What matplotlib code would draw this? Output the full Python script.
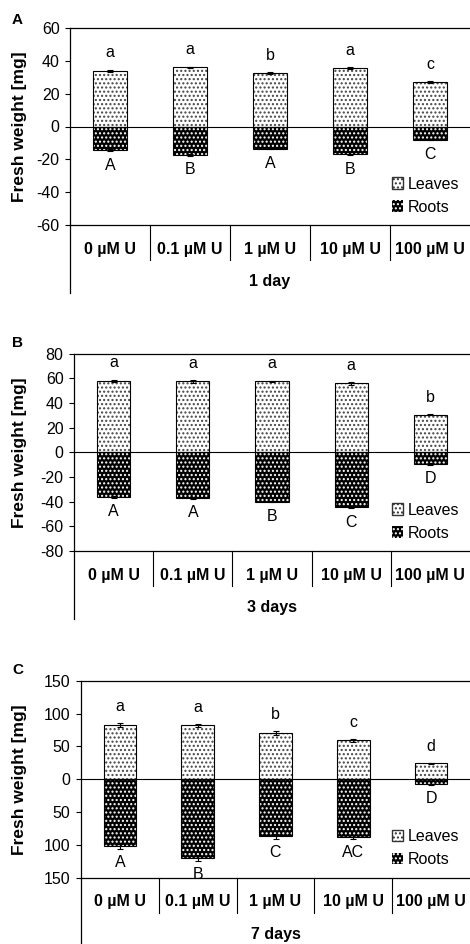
import matplotlib
matplotlib.use("Agg")
import matplotlib.pyplot as plt
from matplotlib.patches import Patch

plt.rcParams["font.family"] = ["Liberation Sans", "DejaVu Sans"]
plt.rcParams["hatch.linewidth"] = 1.0

categories = ["0 µM U", "0.1 µM U", "1 µM U", "10 µM U", "100 µM U"]

# panel A - 1 day
leaves_a = [34, 36, 32.5, 35.5, 27]
leaves_err_a = [0.7, 0.5, 0.8, 0.5, 0.6]
roots_a = [-14.5, -17.5, -13.5, -17, -8]
roots_err_a = [0.5, 0.5, 0.5, 0.5, 0.5]
top_letters_a = ["a", "a", "b", "a", "c"]
bot_letters_a = ["A", "B", "A", "B", "C"]
yticks_a = [60, 40, 20, 0, -20, -40, -60]
yticklabels_a = ["60", "40", "20", "0", "-20", "-40", "-60"]

# panel B - 3 days
leaves_b = [58, 57.5, 57.5, 56, 30.5]
leaves_err_b = [1.0, 1.0, 0.7, 1.0, 0.4]
roots_b = [-36, -37, -40, -44.5, -9.5]
roots_err_b = [0.7, 0.7, 0.5, 1.0, 0.5]
top_letters_b = ["a", "a", "a", "a", "b"]
bot_letters_b = ["A", "A", "B", "C", "D"]
yticks_b = [80, 60, 40, 20, 0, -20, -40, -60, -80]
yticklabels_b = ["80", "60", "40", "20", "0", "-20", "-40", "-60", "-80"]

# panel C - 7 days
leaves_c = [82, 82, 70, 59, 24]
leaves_err_c = [3, 2, 3, 2, 1]
roots_c = [-102, -120, -87, -88, -8]
roots_err_c = [4, 4, 4, 3, 1]
top_letters_c = ["a", "a", "b", "c", "d"]
bot_letters_c = ["A", "B", "C", "AC", "D"]
yticks_c = [150, 100, 50, 0, -50, -100, -150]
yticklabels_c = ["150", "100", "50", "0", "50", "100", "150"]


def draw_panel(ax, leaves, leaves_err, roots, roots_err, top_letters, bot_letters,
               yticks, yticklabels, period, label_x):
    x = list(range(len(categories)))
    w = 0.42
    # leaves: white with dark dots
    ax.bar(x, leaves, width=w, color="white", edgecolor="#444444", hatch="....", linewidth=0)
    ax.bar(x, leaves, width=w, fill=False, edgecolor="black", linewidth=0.8)
    # roots: black with white dots
    ax.bar(x, roots, width=w, color="black", edgecolor="white", hatch="....", linewidth=0)
    ax.bar(x, roots, width=w, fill=False, edgecolor="black", linewidth=0.8)
    ax.errorbar(x, leaves, yerr=leaves_err, fmt="none", ecolor="black",
                capsize=2.5, elinewidth=0.8, capthick=0.8)
    ax.errorbar(x, roots, yerr=roots_err, fmt="none", ecolor="black",
                capsize=2.5, elinewidth=0.8, capthick=0.8)
    ax.axhline(0, color="black", linewidth=0.8)

    for i in x:
        ax.annotate(top_letters[i], (i, leaves[i] + leaves_err[i]), xytext=(0, 12),
                    textcoords="offset points", ha="center", va="center", fontsize=11.5)
        ax.annotate(bot_letters[i], (i, roots[i] - roots_err[i]), xytext=(0, -10),
                    textcoords="offset points", ha="center", va="center", fontsize=11.5)

    ax.set_xlim(-0.5, len(categories) - 0.5)
    ax.set_ylim(yticks[-1], yticks[0])
    ax.set_yticks(yticks)
    ax.set_yticklabels(yticklabels)
    ax.set_xticks([])
    ax.tick_params(axis="y", labelsize=11.5, length=3.5, width=0.8, pad=4)
    ax.spines["right"].set_visible(False)
    for s in ["top", "left", "bottom"]:
        ax.spines[s].set_linewidth(0.9)
    ax.set_ylabel("Fresh weight [mg]", fontsize=12.5, fontweight="bold")
    ax.yaxis.set_label_coords(label_x, 0.5)

    # category table below the axis
    tr = ax.get_xaxis_transform()
    for i in range(1, len(categories)):
        ax.plot([i - 0.5, i - 0.5], [0, -0.178], transform=tr, clip_on=False,
                color="black", linewidth=0.8)
    ax.plot([-0.5, -0.5], [0, -0.345], transform=tr, clip_on=False,
            color="black", linewidth=0.9)
    for i, cat in enumerate(categories):
        ax.text(i, -0.122, cat, transform=tr, ha="center", va="center",
                fontsize=11.5, fontweight="bold")
    ax.text(2, -0.288, period, transform=tr, ha="center", va="center",
            fontsize=11.5, fontweight="bold")

    handles = [
        Patch(facecolor="white", edgecolor="#333333", hatch="....", label="Leaves"),
        Patch(facecolor="black", edgecolor="white", hatch="....", linewidth=0, label="Roots"),
    ]
    ax.legend(handles=handles, loc="lower right", bbox_to_anchor=(1.0, 0.0),
              frameon=False, fontsize=11.5, handlelength=0.7, handleheight=0.7,
              handletextpad=0.3, labelspacing=0.5, borderaxespad=0.25)


fig = plt.figure(figsize=(4.7, 9.44), dpi=100)
ax_a = fig.add_axes([70 / 470, 1 - 225 / 944, 400 / 470, 197 / 944])
ax_b = fig.add_axes([74 / 470, 1 - 551 / 944, 396 / 470, 197.3 / 944])
ax_c = fig.add_axes([81 / 470, 1 - 877.7 / 944, 389 / 470, 197 / 944])

draw_panel(ax_a, leaves_a, leaves_err_a, roots_a, roots_err_a, top_letters_a,
           bot_letters_a, yticks_a, yticklabels_a, "1 day", -0.108)
draw_panel(ax_b, leaves_b, leaves_err_b, roots_b, roots_err_b, top_letters_b,
           bot_letters_b, yticks_b, yticklabels_b, "3 days", -0.119)
draw_panel(ax_c, leaves_c, leaves_err_c, roots_c, roots_err_c, top_letters_c,
           bot_letters_c, yticks_c, yticklabels_c, "7 days", -0.139)

fig.text(12 / 470, 1 - 20 / 944, "A", fontsize=11, fontweight="bold", ha="left", va="center")
fig.text(12 / 470, 1 - 343 / 944, "B", fontsize=11, fontweight="bold", ha="left", va="center")
fig.text(12 / 470, 1 - 670 / 944, "C", fontsize=11, fontweight="bold", ha="left", va="center")

fig.savefig("out.png", dpi=100)
